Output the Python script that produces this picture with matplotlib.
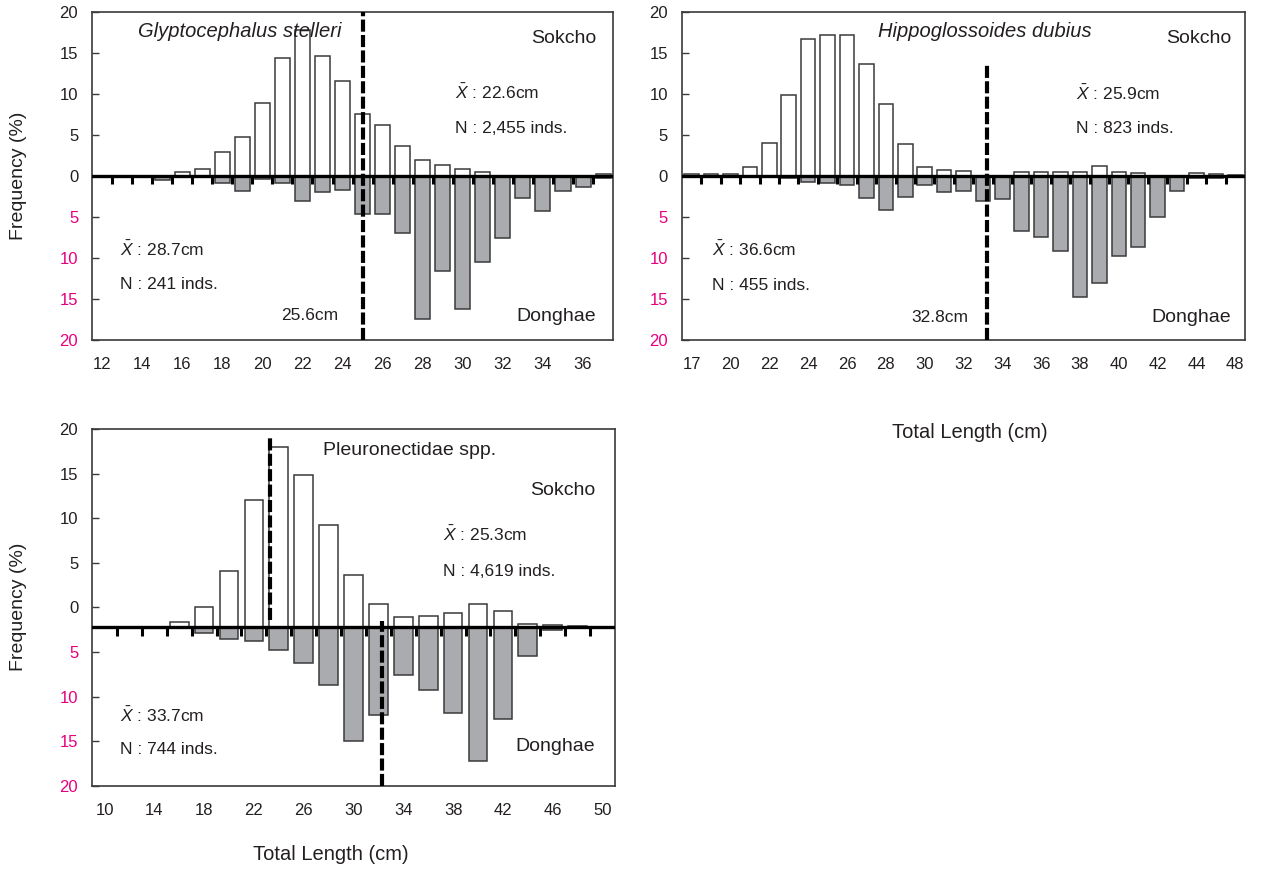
import numpy as np
import matplotlib.pyplot as plt

plt.rcParams['font.family'] = ['Liberation Sans', 'DejaVu Sans']
plt.rcParams['mathtext.fontset'] = 'custom'
plt.rcParams['mathtext.rm'] = 'Liberation Sans'
plt.rcParams['mathtext.it'] = 'Liberation Sans:italic'

# Glyptocephalus stelleri (1 cm classes)
gs_len = list(range(12, 38))
gs_sokcho = [0, 0, 0, 0, 0.5, 0.9, 2.9, 4.7, 8.9, 14.4, 17.8, 14.6, 11.6, 7.6,
             6.2, 3.6, 1.9, 1.4, 0.9, 0.5, 0, 0, 0, 0, 0, 0.2]
gs_donghae = [0, 0, 0, 0.5, 0, 0, 0.8, 1.8, 0.4, 0.8, 3.1, 2.0, 1.7, 4.6,
              4.6, 7.0, 17.5, 11.6, 16.2, 10.5, 7.6, 2.7, 4.3, 1.8, 1.4, 0.3]
gs_ticks = list(range(12, 37, 2))
gs_cut = 25.0

# Hippoglossoides dubius (1 cm classes)
hd_len = list(range(17, 46))
hd_sokcho = [0.2, 0.2, 0.2, 1.1, 4.0, 9.9, 16.7, 17.2, 17.2, 13.6, 8.8, 3.9, 1.1,
             0.7, 0.6, 0, 0, 0.5, 0.5, 0.5, 0.5, 1.2, 0.5, 0.4, 0, 0, 0.4, 0.2, 0.1]
hd_donghae = [0.1, 0.1, 0.1, 0, 0, 0.3, 0.7, 0.9, 1.1, 2.7, 4.2, 2.6, 1.1,
              2.0, 1.8, 3.0, 2.8, 6.7, 7.5, 9.1, 14.7, 13.0, 9.8, 8.6, 5.0, 1.8,
              0.3, 0.2, 0.1]
hd_ticks = list(range(17, 46, 2))
hd_ticklabels = ['17', '20', '22', '24', '26', '28', '30', '32', '34', '36',
                 '38', '40', '42', '44', '48']
hd_cut = 32.2

# Pleuronectidae spp. (2 cm classes)
pl_len = list(range(10, 51, 2))
pl_sokcho = [0, 0, 0, 0.6, 2.3, 6.3, 14.3, 20.2, 17.0, 11.4, 5.8, 2.6, 1.1,
             1.3, 1.6, 2.6, 1.8, 0.4, 0.2, 0.1, 0]
pl_donghae = [0, 0, 0, 0, 0.7, 1.3, 1.6, 2.6, 4.0, 6.5, 12.8, 9.9, 5.4,
              7.1, 9.6, 15.0, 10.3, 3.2, 0.3, 0.1, 0]
pl_ticks = list(range(10, 51, 4))
pl_means = [23.3, 32.3]

ytick_pos = [20, 15, 10, 5, 0, -5, -10, -15, -20]
ytick_lab = ['20', '15', '10', '5', '0', '5', '10', '15', '20']
ytick_col = ['#231f20'] * 5 + ['#e6007e'] * 4

EDGE = '#3a3a3a'
GRAY = '#a9abae'
INK = '#231f20'


def draw_panel(ax, lengths, sokcho, donghae, step, ticks, ticklabels, base=0.0):
    x = np.asarray(lengths, dtype=float)
    ax.bar(x, sokcho, width=step * 0.75, bottom=base, color='white',
           edgecolor=EDGE, linewidth=1.1, zorder=2)
    ax.bar(x, -np.asarray(donghae), width=step * 0.75, bottom=base, color=GRAY,
           edgecolor=EDGE, linewidth=1.1, zorder=2)
    ax.axhline(base, color='black', lw=2.4, zorder=3)
    edges = x[:-1] + step / 2
    ax.vlines(edges, base - 1.0, base, color='black', lw=2.2, zorder=3)

    ax.set_xlim(x[0] - step / 2, x[-1] + step / 2)
    ax.set_ylim(-20, 20)
    ax.set_xticks(ticks)
    ax.set_xticklabels(ticklabels)
    ax.tick_params(axis='x', length=0, pad=12, labelsize=12, colors=INK)
    ax.set_yticks(ytick_pos)
    ax.set_yticklabels(ytick_lab)
    ax.tick_params(axis='y', direction='in', length=5, width=1, pad=10,
                   labelsize=12, color=EDGE)
    for lbl, c in zip(ax.get_yticklabels(), ytick_col):
        lbl.set_color(c)
    for sp in ax.spines.values():
        sp.set_color(EDGE)
        sp.set_linewidth(1.2)


def add_texts(ax, species, italic, sp_x, stats_up, up_x, up_y, stats_dn, dn_y,
              right_x, sok_y, don_y):
    kw = dict(transform=ax.transAxes, fontsize=12.5, color=INK, va='center')
    if italic:
        ax.text(sp_x, 0.94, species, fontsize=14.5, style='italic',
                transform=ax.transAxes, va='center', color=INK)
    else:
        ax.text(sp_x, 0.94, species, fontsize=14,
                transform=ax.transAxes, va='center', color=INK)
    ax.text(right_x, sok_y, 'Sokcho', ha='right', **dict(kw, fontsize=14))
    ax.text(right_x, don_y, 'Donghae', ha='right', **dict(kw, fontsize=14))
    ax.text(up_x, up_y[0], r'$\bar{X}$ : ' + stats_up[0], **kw)
    ax.text(up_x, up_y[1], 'N : ' + stats_up[1], **kw)
    ax.text(0.054, dn_y[0], r'$\bar{X}$ : ' + stats_dn[0], **kw)
    ax.text(0.054, dn_y[1], 'N : ' + stats_dn[1], **kw)


fig = plt.figure(figsize=(12.61, 8.84), dpi=100)
ax1 = fig.add_axes([0.0730, 0.6154, 0.4132, 0.3710])
ax2 = fig.add_axes([0.5408, 0.6154, 0.4465, 0.3710])
ax3 = fig.add_axes([0.0730, 0.1109, 0.4147, 0.4038])

dash = (0, (2.9, 0.8))

# panel 1
draw_panel(ax1, gs_len, gs_sokcho, gs_donghae, 1, gs_ticks, [str(t) for t in gs_ticks])
ax1.plot([gs_cut, gs_cut], [-20, 20], color='black', lw=3, linestyle=dash, zorder=4)
add_texts(ax1, 'Glyptocephalus stelleri', True, 0.088, ['22.6cm', '2,455 inds.'],
          0.697, [0.756, 0.646], ['28.7cm', '241 inds.'], [0.277, 0.168],
          0.967, 0.918, 0.073)
ax1.text(0.472, 0.076, '25.6cm', transform=ax1.transAxes, ha='right', va='center',
         fontsize=12.5, color=INK)

# panel 2
draw_panel(ax2, hd_len, hd_sokcho, hd_donghae, 1, hd_ticks, hd_ticklabels)
ax2.plot([hd_cut, hd_cut], [-20, 13.5], color='black', lw=3, linestyle=dash, zorder=4)
add_texts(ax2, 'Hippoglossoides dubius', True, 0.348, ['25.9cm', '823 inds.'],
          0.70, [0.753, 0.646], ['36.6cm', '455 inds.'], [0.277, 0.165],
          0.975, 0.918, 0.07)
ax2.text(0.508, 0.07, '32.8cm', transform=ax2.transAxes, ha='right', va='center',
         fontsize=12.5, color=INK)

# panel 3 (baseline sits below the 0 label)
pl_base = -2.2
draw_panel(ax3, pl_len, pl_sokcho, pl_donghae, 2, pl_ticks, [str(t) for t in pl_ticks],
           base=pl_base)
ax3.plot([pl_means[0]] * 2, [pl_base + 0.8, 19.3], color='black', lw=3,
         linestyle=dash, zorder=4)
ax3.plot([pl_means[1]] * 2, [-20, pl_base + 0.7], color='black', lw=3,
         linestyle=dash, zorder=4)
add_texts(ax3, 'Pleuronectidae spp.', False, 0.442, ['25.3cm', '4,619 inds.'],
          0.672, [0.706, 0.60], ['33.7cm', '744 inds.'], [0.199, 0.101],
          0.962, 0.829, 0.11)

# axis titles
fig.text(19 / 1261, 1 - 176 / 884, 'Frequency (%)', rotation=90, ha='center',
         va='center', fontsize=14, color=INK)
fig.text(19 / 1261, 1 - 607 / 884, 'Frequency (%)', rotation=90, ha='center',
         va='center', fontsize=14, color=INK)
fig.text(970 / 1261, 1 - 432 / 884, 'Total Length (cm)', ha='center', va='center',
         fontsize=14.5, color=INK)
fig.text(331 / 1261, 1 - 855 / 884, 'Total Length (cm)', ha='center', va='center',
         fontsize=14.5, color=INK)

fig.savefig('out.png', dpi=100)
